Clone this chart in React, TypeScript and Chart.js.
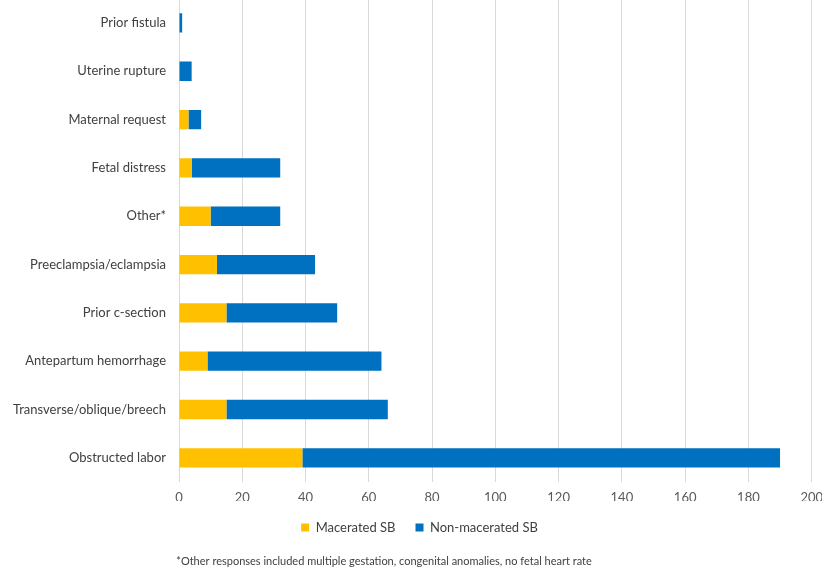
import React, { useEffect, useRef } from "react";
import { Chart, registerables } from "chart.js";

Chart.register(...registerables);

const categories = [
  "Prior fistula",
  "Uterine rupture",
  "Maternal request",
  "Fetal distress",
  "Other*",
  "Preeclampsia/eclampsia",
  "Prior c-section",
  "Antepartum hemorrhage",
  "Transverse/oblique/breech",
  "Obstructed labor",
];
const maceratedSB = [0, 0, 3, 4, 10, 12, 15, 9, 15, 39];
const nonMaceratedSB = [1, 4, 4, 28, 22, 31, 35, 55, 51, 151];
const xTickMax = 200;
const xTickStep = 20;
const footnote = "*Other responses included multiple gestation, congenital anomalies, no fetal heart rate";

const FONT = "Lato, 'Open Sans', sans-serif";
const CANVAS_TOP = -14;

export default function App() {
  const ref = useRef<HTMLCanvasElement | null>(null);
  useEffect(() => {
    document.body.style.margin = "0";
    const footPlugin = {
      id: "footnote",
      afterLayout(chart: any) {
        const lg = chart.legend;
        if (lg) {
          lg.left += 4;
          lg.right += 4;
        }
      },
      afterDraw(chart: any) {
        const ctx = chart.ctx;
        ctx.save();
        ctx.font = "11px " + FONT;
        ctx.fillStyle = "#404040";
        ctx.textAlign = "center";
        ctx.textBaseline = "middle";
        ctx.fillText(footnote, 384, 561 - CANVAS_TOP);
        ctx.restore();
      },
    };
    const chart = new Chart(ref.current as HTMLCanvasElement, {
      type: "bar",
      data: {
        labels: categories,
        datasets: [
          { label: "Macerated SB", data: maceratedSB, backgroundColor: "#FFC000" },
          { label: "Non-macerated SB", data: nonMaceratedSB, backgroundColor: "#0070C0" },
        ],
      },
      options: {
        indexAxis: "y",
        responsive: false,
        animation: false,
        maintainAspectRatio: false,
        layout: { padding: { top: 0, bottom: 24, left: 0, right: 0 } },
        datasets: { bar: { categoryPercentage: 0.8, barPercentage: 0.5 } },
        scales: {
          x: {
            stacked: true,
            min: 0,
            max: xTickMax,
            ticks: { stepSize: xTickStep, color: "#595959", font: { family: FONT, size: 13 }, padding: 8 },
            grid: { color: "#d9d9d9", drawTicks: false },
            border: { display: false },
            afterFit: (s: any) => {
              s.height = 19;
            },
          },
          y: {
            stacked: true,
            ticks: { color: "#404040", font: { family: FONT, size: 13 }, padding: 5 },
            grid: { display: false },
            border: { display: false },
            afterFit: (s: any) => {
              s.width = 179;
            },
          },
        },
        plugins: {
          legend: {
            position: "bottom",
            labels: {
              boxWidth: 8,
              boxHeight: 8,
              color: "#404040",
              font: { family: FONT, size: 13 },
              padding: 20,
            },
          },
          tooltip: { enabled: false },
          title: { display: false },
        },
      },
      plugins: [footPlugin],
    });
    return () => chart.destroy();
  }, []);
  return (
    <div style={{ position: "fixed", left: 0, top: CANVAS_TOP, width: 831, height: 568 - CANVAS_TOP }}>
      <canvas
        ref={ref}
        width={831}
        height={568 - CANVAS_TOP}
        style={{ width: 831, height: 568 - CANVAS_TOP }}
      />
    </div>
  );
}
